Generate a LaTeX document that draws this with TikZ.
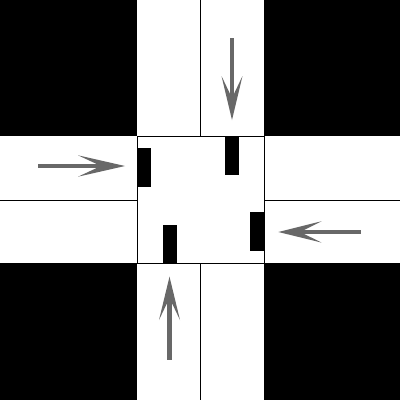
\documentclass[tikz,border=0pt]{standalone}
\begin{document}
\begin{tikzpicture}[x=1pt,y=-1pt,
  corner/.style={fill=black},
  bar/.style={fill=black},
  edge/.style={draw=black,line width=0.9pt},
  arrowfill/.style={fill=arrowgray}]
\definecolor{arrowgray}{RGB}{104,104,104}
\useasboundingbox (0,0) rectangle (400,400);
\fill[white] (0,0) rectangle (400,400);
% corners
\fill[corner] (0,0) rectangle (137,136);
\fill[corner] (264,0) rectangle (400,136);
\fill[corner] (0,263) rectangle (137,400);
\fill[corner] (264,263) rectangle (400,400);
% intersection box and centre lines
\draw[edge] (137,136) rectangle (264,263);
\draw[edge] (200,0) -- (200,136);
\draw[edge] (200,263) -- (200,400);
\draw[edge] (0,200) -- (137,200);
\draw[edge] (264,200) -- (400,200);
% black bars
\fill[bar] (137,148) rectangle (151,187);
\fill[bar] (225,136) rectangle (239,175);
\fill[bar] (250,212) rectangle (264,251);
\fill[bar] (163,225) rectangle (177,263);
% arrows
% top (down)
\fill[arrowfill] (229.8,37.7) rectangle (234.2,99);
\fill[arrowfill] (232,120) -- (221.5,76) -- (232,98) -- (242.5,76) -- cycle;
% left (right)
\fill[arrowfill] (37.7,163.8) rectangle (102,168.2);
\fill[arrowfill] (125,166) -- (78,155.3) -- (101,166) -- (78,176.7) -- cycle;
% right (left)
\fill[arrowfill] (299,229.8) rectangle (360.7,234.2);
\fill[arrowfill] (278.3,232) -- (321.7,221.2) -- (300,232) -- (321.7,242.6) -- cycle;
% bottom (up)
\fill[arrowfill] (167.3,297) rectangle (171.7,360);
\fill[arrowfill] (169.5,276.7) -- (159,320) -- (169.5,298) -- (180,320) -- cycle;
\end{tikzpicture}
\end{document}
